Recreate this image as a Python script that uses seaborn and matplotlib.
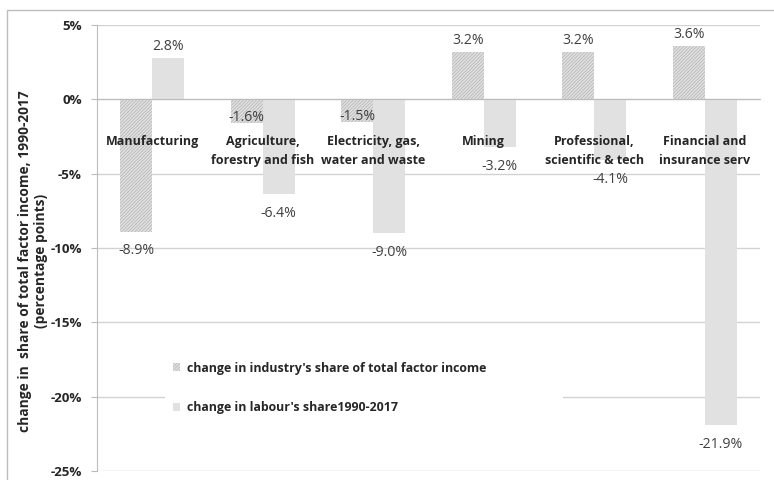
import pandas as pd
import numpy as np
import seaborn as sns
import matplotlib.pyplot as plt
from matplotlib.patches import Patch, Rectangle
from matplotlib.ticker import FixedLocator, FuncFormatter

industries = ['Manufacturing', 'Agriculture,\nforestry and fish', 'Electricity, gas,\nwater and waste',
              'Mining', 'Professional,\nscientific & tech', 'Financial and\ninsurance serv']
industry_share = [-8.9, -1.6, -1.5, 3.2, 3.2, 3.6]
labour_share = [2.8, -6.4, -9.0, -3.2, -4.1, -21.9]
series_names = ["change in industry's share of total factor income",
                "change in labour's share1990-2017"]
y_ticks = [5, 0, -5, -10, -15, -20, -25]

df = pd.DataFrame({
    'industry': industries * 2,
    'value': industry_share + labour_share,
    'series': [series_names[0]] * len(industries) + [series_names[1]] * len(industries),
})

sns.set_style('white')
plt.rcParams['font.family'] = ['Open Sans', 'DejaVu Sans']
plt.rcParams['hatch.linewidth'] = 0.6

FS = 9.0
hatch_col = '#b8b8b8'
bar_color = '#e1e1e1'
HATCH = '//////////'

fig = plt.figure(figsize=(7.74, 4.8), dpi=100)
ax = fig.add_axes([97 / 774, 1 - 471 / 480, 663 / 774, 446 / 480])

sns.barplot(data=df, x='industry', y='value', hue='series', palette=[bar_color, bar_color],
            width=0.58, gap=0, legend=False, ax=ax, zorder=1)
for p in ax.containers[0]:
    p.set_hatch(HATCH)
    p.set_edgecolor(hatch_col)
    p.set_linewidth(0)
for p in ax.containers[1]:
    p.set_linewidth(0)

# data labels
VFS = 10.2
for cont in ax.containers:
    for p in cont:
        v = p.get_height()
        x = p.get_x() + p.get_width() / 2
        if v >= 0:
            ax.annotate(f'{v:.1f}%', (x, v), xytext=(0, 2.5), textcoords='offset points',
                        ha='center', va='bottom', fontsize=VFS, color='#404040')
        elif v > -2:
            ax.annotate(f'{v:.1f}%', (x, v), xytext=(0, -1.5), textcoords='offset points',
                        ha='center', va='bottom', fontsize=VFS, color='#404040')
        else:
            ax.annotate(f'{v:.1f}%', (x, v), xytext=(0, -8.5), textcoords='offset points',
                        ha='center', va='top', fontsize=VFS, color='#404040')

ax.set_ylim(-25, 5)
ax.set_xlim(-0.5, len(industries) - 0.5)
ax.set_yticks(y_ticks)
ax.yaxis.set_major_formatter(FuncFormatter(lambda v, pos: f'{v:.0f}%'))
ax.tick_params(axis='y', length=4, width=0.8, color='#bcbcbc', direction='out', pad=7,
               labelsize=9.6, left=True)
for t in ax.get_yticklabels():
    t.set_fontweight('bold')

# category axis crossing at zero
ax.spines['bottom'].set_position(('data', 0))
ax.spines['bottom'].set_color('#bcbcbc')
ax.spines['left'].set_color('#bcbcbc')
ax.spines['top'].set_visible(False)
ax.spines['right'].set_visible(False)
ax.set_xticks(range(len(industries)))
ax.set_xticklabels(industries, fontweight='bold', fontsize=FS, linespacing=1.6)
ax.tick_params(axis='x', which='major', length=0, pad=25.5)
ax.xaxis.set_minor_locator(FixedLocator(np.arange(0.5, len(industries), 1)))
ax.tick_params(axis='x', which='minor', length=4, width=0.8, color='#bcbcbc', direction='out')

ax.set_axisbelow(True)
ax.yaxis.grid(True, color='#d2d2d2', linewidth=1)
ax.xaxis.set_zorder(3)

ax.set_xlabel('')
ax.set_ylabel("change in  share of total factor income, 1990-2017\n(percentage points)",
              fontweight='bold', fontsize=9.9, linespacing=1.15)
ax.yaxis.set_label_coords(-0.074, 0.471)

handles = [Patch(facecolor=bar_color, hatch=HATCH, edgecolor=hatch_col, linewidth=0,
                 label=series_names[0]),
           Patch(facecolor=bar_color, linewidth=0, label=series_names[1])]
leg = ax.legend(handles=handles, loc='upper left', bbox_to_anchor=(0.103, 0.262, 0.6, 0.0),
                mode='expand', borderaxespad=0, frameon=True, fancybox=False, framealpha=1,
                facecolor='white', edgecolor='none', handlelength=0.62, handleheight=0.62,
                handletextpad=0.5, labelspacing=2.15, borderpad=0.6,
                prop={'weight': 'bold', 'size': 8.95})
leg.set_zorder(4)

# chart area border
fig.patches.append(Rectangle((7 / 774, -0.02), 1.0, 1 - 10 / 480 + 0.02, transform=fig.transFigure,
                             fill=False, edgecolor='#bdbdbd', linewidth=1))

fig.savefig('out.png', dpi=100)
